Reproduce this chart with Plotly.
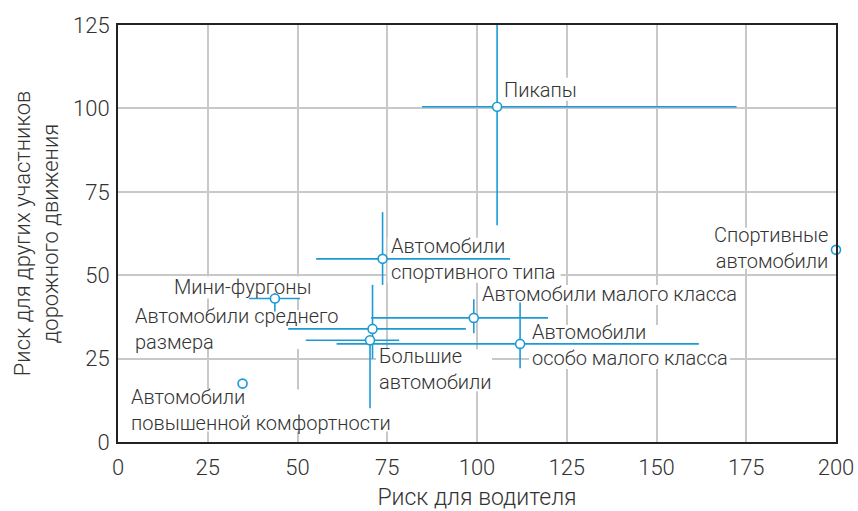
import plotly.graph_objects as go

# Vehicle classes: driver risk (x) vs. risk to other road users (y)
names = [
    "Автомобили повышенной комфортности",
    "Мини-фургоны",
    "Автомобили среднего размера",
    "Большие автомобили",
    "Автомобили спортивного типа",
    "Автомобили малого класса",
    "Автомобили особо малого класса",
    "Пикапы",
    "Спортивные автомобили",
]
driver_risk = [34.7, 43.7, 70.9, 70.2, 73.7, 99.1, 112.0, 105.6, 200.0]
others_risk = [17.5, 43.0, 33.9, 30.5, 54.9, 37.2, 29.4, 100.5, 57.6]

# Uncertainty ranges (low / high) for each class
driver_low = [34.7, 36.5, 47.4, 52.3, 55.2, 70.5, 60.9, 84.7, 200.0]
driver_high = [34.7, 50.7, 96.9, 78.3, 109.2, 119.8, 161.8, 172.3, 200.0]
others_low = [17.5, 39.1, 24.9, 10.1, 47.1, 32.6, 22.1, 65.0, 57.6]
others_high = [17.5, 44.6, 47.1, 32.0, 68.9, 42.8, 41.8, 125.0, 57.6]

x_ticks = [0, 25, 50, 75, 100, 125, 150, 175, 200]
y_ticks = [0, 25, 50, 75, 100, 125]

BLUE = "#1C9AD6"
TEXT = "#333333"
FONT = "Roboto"

err_x_plus = [h - v for h, v in zip(driver_high, driver_risk)]
err_x_minus = [v - l for l, v in zip(driver_low, driver_risk)]
err_y_plus = [h - v for h, v in zip(others_high, others_risk)]
err_y_minus = [v - l for l, v in zip(others_low, others_risk)]

fig = go.Figure()

# Error bars (no caps)
fig.add_trace(go.Scatter(
    x=driver_risk, y=others_risk, mode="markers",
    marker=dict(size=1, color="rgba(0,0,0,0)"),
    error_x=dict(type="data", symmetric=False, array=err_x_plus,
                 arrayminus=err_x_minus, color=BLUE, thickness=1.6, width=0),
    error_y=dict(type="data", symmetric=False, array=err_y_plus,
                 arrayminus=err_y_minus, color=BLUE, thickness=1.6, width=0),
    hoverinfo="skip", showlegend=False,
))

# Hollow point markers
fig.add_trace(go.Scatter(
    x=driver_risk, y=others_risk, mode="markers",
    marker=dict(size=9, color="white", line=dict(color=BLUE, width=1.6)),
    text=names, hoverinfo="text", showlegend=False, cliponaxis=False,
))

# Label placement per class:
# (index, text, xanchor, xshift, yshift, knockout box [left, right, bottom, top] in px)
label_layout = [
    (0, "Автомобили<br>повышенной комфортности", "left", -113, -26, [-114, 146, -48, -6]),
    (1, "Мини-фургоны", "left", -102, 12, [-104, 42, 0, 22]),
    (2, "Автомобили среднего<br>размера", "left", -239, 0, [-241, -36, -20, 19]),
    (3, "Большие<br>автомобили", "left", 8, -29, [6, 122, -51, -9]),
    (4, "Автомобили<br>спортивного типа", "left", 7, 0, [5, 178, -24, 21]),
    (5, "Автомобили малого класса", "left", 7, 24, [5, 264, 13, 33]),
    (6, "Автомобили<br>особо малого класса", "left", 11, -1, [9, 210, -25, 19]),
    (7, "Пикапы", "left", 6, 17, [4, 78, 6, 29]),
    (8, "Спортивные<br>автомобили", "right", -7, 2, [-122, -4, -19, 22]),
]

for idx, text, anchor, xs, ys, box in label_layout:
    # white patch that hides the grid behind the label (drawn under the data marks)
    fig.add_shape(
        type="rect", layer="between",
        xref="x", yref="y", xsizemode="pixel", ysizemode="pixel",
        xanchor=driver_risk[idx], yanchor=others_risk[idx],
        x0=box[0], x1=box[1], y0=box[2], y1=box[3],
        fillcolor="white", line=dict(width=0),
    )
    fig.add_annotation(
        x=driver_risk[idx], y=others_risk[idx], text=text,
        showarrow=False, xanchor=anchor, yanchor="middle", align=anchor,
        xshift=xs, yshift=ys, borderpad=0,
        font=dict(family=FONT, size=20, color=TEXT, weight=300),
    )

axis_common = dict(
    showgrid=True, gridcolor="#C8C8C8", gridwidth=2,
    showline=True, linecolor="#222222", linewidth=2, mirror=True,
    zeroline=False, ticks="", automargin=False,
    tickfont=dict(family=FONT, size=22, color=TEXT, weight=300),
)

fig.update_xaxes(
    range=[0, 200], tickvals=x_ticks, ticktext=[str(t) for t in x_ticks],
    ticklabelstandoff=5,
    title=dict(text="Риск для водителя", standoff=13,
               font=dict(family=FONT, size=23, color=TEXT, weight=300)),
    **axis_common,
)
fig.update_yaxes(
    range=[0, 125], tickvals=y_ticks, ticktext=[str(t) for t in y_ticks],
    ticklabelstandoff=2,
    title=dict(text="Риск для других участников<br>дорожного движения", standoff=8,
               font=dict(family=FONT, size=22, color=TEXT, weight=300)),
    **axis_common,
)

fig.update_layout(
    width=858, height=511,
    margin=dict(l=118, r=22, t=25, b=69),
    plot_bgcolor="white", paper_bgcolor="white",
)

fig.write_html("out.html")
